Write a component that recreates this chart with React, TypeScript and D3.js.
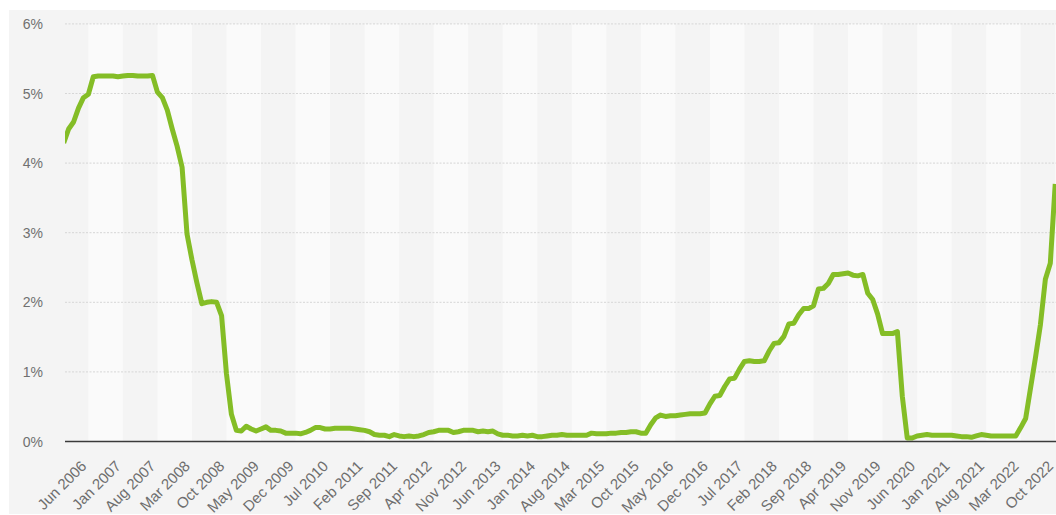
import React from "react";
import * as d3 from "d3";

// Monthly federal funds rate (%), Jan 2006 – Oct 2022
const startYear = 2006;
const monthNames = ["Jan", "Feb", "Mar", "Apr", "May", "Jun", "Jul", "Aug", "Sep", "Oct", "Nov", "Dec"];

const rates2006 = [4.29, 4.49, 4.59, 4.79, 4.94, 4.99, 5.24, 5.25, 5.25, 5.25, 5.25, 5.24];
const rates2007 = [5.25, 5.26, 5.26, 5.25, 5.25, 5.25, 5.26, 5.02, 4.94, 4.76, 4.49, 4.24];
const rates2008 = [3.94, 2.98, 2.61, 2.28, 1.98, 2.0, 2.01, 2.0, 1.81, 0.97, 0.39, 0.16];
const rates2009 = [0.15, 0.22, 0.18, 0.15, 0.18, 0.21, 0.16, 0.16, 0.15, 0.12, 0.12, 0.12];
const rates2010 = [0.11, 0.13, 0.16, 0.2, 0.2, 0.18, 0.18, 0.19, 0.19, 0.19, 0.19, 0.18];
const rates2011 = [0.17, 0.16, 0.14, 0.1, 0.09, 0.09, 0.07, 0.1, 0.08, 0.07, 0.08, 0.07];
const rates2012 = [0.08, 0.1, 0.13, 0.14, 0.16, 0.16, 0.16, 0.13, 0.14, 0.16, 0.16, 0.16];
const rates2013 = [0.14, 0.15, 0.14, 0.15, 0.11, 0.09, 0.09, 0.08, 0.08, 0.09, 0.08, 0.09];
const rates2014 = [0.07, 0.07, 0.08, 0.09, 0.09, 0.1, 0.09, 0.09, 0.09, 0.09, 0.09, 0.12];
const rates2015 = [0.11, 0.11, 0.11, 0.12, 0.12, 0.13, 0.13, 0.14, 0.14, 0.12, 0.12, 0.24];
const rates2016 = [0.34, 0.38, 0.36, 0.37, 0.37, 0.38, 0.39, 0.4, 0.4, 0.4, 0.41, 0.54];
const rates2017 = [0.65, 0.66, 0.79, 0.9, 0.91, 1.04, 1.15, 1.16, 1.15, 1.15, 1.16, 1.3];
const rates2018 = [1.41, 1.42, 1.51, 1.69, 1.7, 1.82, 1.91, 1.91, 1.95, 2.19, 2.2, 2.27];
const rates2019 = [2.4, 2.4, 2.41, 2.42, 2.39, 2.38, 2.4, 2.13, 2.04, 1.83, 1.55, 1.55];
const rates2020 = [1.55, 1.58, 0.65, 0.05, 0.05, 0.08, 0.09, 0.1, 0.09, 0.09, 0.09, 0.09];
const rates2021 = [0.09, 0.08, 0.07, 0.07, 0.06, 0.08, 0.1, 0.09, 0.08, 0.08, 0.08, 0.08];
const rates2022 = [0.08, 0.08, 0.2, 0.33, 0.77, 1.21, 1.68, 2.33, 2.56, 3.7];

const rates: number[] = [
  ...rates2006, ...rates2007, ...rates2008, ...rates2009, ...rates2010, ...rates2011,
  ...rates2012, ...rates2013, ...rates2014, ...rates2015, ...rates2016, ...rates2017,
  ...rates2018, ...rates2019, ...rates2020, ...rates2021, ...rates2022,
];

const monthLabels = rates.map((_, i) => `${monthNames[i % 12]} ${startYear + Math.floor(i / 12)}`);

// Category axis shows every 7th month starting with Jun 2006
const firstTick = 5;
const tickStep = 7;
const tickIndices = d3.range(firstTick, rates.length, tickStep);

const yTicks = [0, 1, 2, 3, 4, 5, 6];

const W = 1056;
const H = 515;
const plotLeft = 65;
const plotRight = 1056;
const monthWidth = 4.933;
const firstX = 63.7;

export default function App() {
  const x = d3
    .scaleLinear()
    .domain([0, rates.length - 1])
    .range([firstX, firstX + (rates.length - 1) * monthWidth]);
  const y = d3.scaleLinear().domain([0, 6]).range([441.5, 23.9]);

  const line = d3
    .line<number>()
    .x((_, i) => x(i))
    .y((d) => y(d));

  // alternating light bands between consecutive ticks
  const bands: [number, number][] = [];
  for (let k = 0; k < tickIndices.length; k += 2) {
    const a = tickIndices[k];
    const b = a + tickStep;
    bands.push([x(a), Math.min(x(b), plotRight)]);
  }

  const font = "'Liberation Sans', Arial, sans-serif";

  return (
    <svg
      width={W}
      height={H}
      style={{ position: "absolute", left: 0, top: 0, background: "#ffffff" }}
    >
      <defs>
        <clipPath id="plot-clip">
          <rect x={plotLeft} y={0} width={plotRight - plotLeft} height={H} />
        </clipPath>
      </defs>
      <rect x={9} y={10} width={W - 9} height={H - 10 - 1} fill="#f4f4f4" />

      <g clipPath="url(#plot-clip)">
        {bands.map(([a, b], i) => (
          <rect key={i} x={a} y={y(6)} width={Math.max(0, b - a)} height={y(0) - y(6)} fill="#fafafa" />
        ))}
      </g>

      {yTicks
        .filter((t) => t > 0)
        .map((t) => (
          <line
            key={t}
            x1={plotLeft}
            x2={plotRight}
            y1={y(t)}
            y2={y(t)}
            stroke="#d6d6d6"
            strokeWidth={1}
            strokeDasharray="2 1.5"
          />
        ))}

      {yTicks.map((t) => (
        <text
          key={t}
          x={43}
          y={y(t) + 5}
          textAnchor="end"
          fontFamily={font}
          fontSize={14}
          fill="#707070"
        >
          {`${t}%`}
        </text>
      ))}

      <g clipPath="url(#plot-clip)">
        <path
          d={line(rates) || ""}
          fill="none"
          stroke="#84bd26"
          strokeWidth={5}
          strokeLinejoin="round"
          strokeLinecap="butt"
        />
      </g>

      <line x1={plotLeft} x2={plotRight} y1={y(0)} y2={y(0)} stroke="#3a3a3a" strokeWidth={1.5} />

      {tickIndices.map((i) => (
        <text
          key={i}
          transform={`translate(${x(i) - 1},${467}) rotate(-45)`}
          textAnchor="end"
          fontFamily={font}
          fontSize={15}
          fill="#6e6e6e"
        >
          {monthLabels[i]}
        </text>
      ))}
    </svg>
  );
}
